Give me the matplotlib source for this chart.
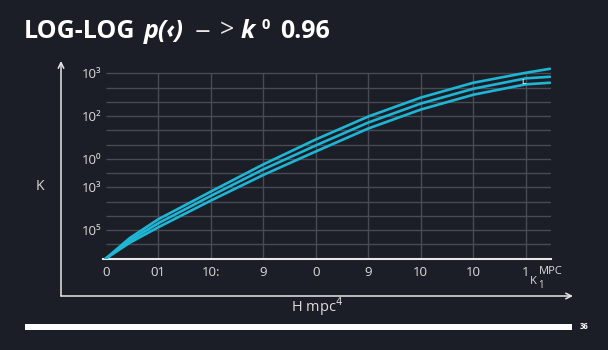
import matplotlib
matplotlib.use("Agg")
import matplotlib.pyplot as plt
from matplotlib.patches import Rectangle, FancyArrowPatch

# chart data (grid units)
x_vals = [0, 0.46, 1, 2, 3, 4, 5, 6, 7, 8, 8.46]
upper = [0, 1.45, 2.76, 4.70, 6.61, 8.36, 9.97, 11.30, 12.34, 13.04, 13.32]
middle = [0, 1.28, 2.48, 4.40, 6.26, 7.94, 9.55, 10.88, 11.92, 12.65, 12.76]
lower = [0, 1.12, 2.20, 4.07, 5.87, 7.52, 9.13, 10.46, 11.50, 12.23, 12.34]

x_ticks = [0, 1, 2, 3, 4, 5, 6, 7, 8]
x_labels = ["0", "01", "10:", "9", "0", "9", "10", "10", "1"]
y_ticks = [13, 10, 7, 5, 2]
y_labels = ["10³", "10²", "10⁰", "10³", "10⁵"]

BG = "#1b1e26"
LINE = "#1fb6d6"
GRID = "#464b54"
TXT = "#dcdcdc"
W, H = 608, 350

plt.rcParams['font.family'] = ['Open Sans', 'DejaVu Sans']

fig = plt.figure(figsize=(W / 100, H / 100), dpi=100, facecolor=BG)


def fx(px):
    return px / W


def fy(py):
    return 1 - py / H


# main axes, placed in pixel terms
left, right, bottom, top = 103, 551, 258.7, 64.8
ax = fig.add_axes([fx(left), fy(bottom), (right - left) / W, (bottom - top) / H])
ax.set_facecolor(BG)
ax.set_xlim(-0.05, 8.48)
ax.set_ylim(0, 13.6)

for y in range(1, 14):
    ax.hlines(y, 0.0, 8.48, color=GRID, lw=1, zorder=1)
for x in range(1, 9):
    ax.vlines(x, 0, 13, color=GRID, lw=1, zorder=1)

for series in (upper, middle, lower):
    ax.plot(x_vals, series, color=LINE, lw=1.9, zorder=3,
            solid_capstyle='round', solid_joinstyle='round')

for side in ('top', 'right', 'left'):
    ax.spines[side].set_visible(False)
ax.spines['bottom'].set_color('#e8e8e8')
ax.spines['bottom'].set_linewidth(1.5)

ax.set_xticks(x_ticks)
ax.set_xticklabels(x_labels)
ax.set_yticks(y_ticks)
ax.set_yticklabels(y_labels)
ax.tick_params(axis='x', length=0, pad=5, labelsize=9.5, labelcolor=TXT)
ax.tick_params(axis='y', length=0, pad=1, labelsize=9.5, labelcolor=TXT)

# little extra marks around the last x tick
fig.text(fx(533.5), fy(281), "K", color=TXT, fontsize=8, ha='center', va='center')
fig.text(fx(541), fy(285), "1", color=TXT, fontsize=7, ha='center', va='center')
fig.text(fx(551), fy(272), "MPC", color=TXT, fontsize=8, ha='center', va='center')
fig.text(fx(523), fy(82), "ʟ", color='white', fontsize=6, ha='center', va='center')

# outer axis arrows
arrow = dict(arrowstyle='->', color='#e6e6e6', lw=1.1, mutation_scale=10,
             shrinkA=0, shrinkB=0)
fig.add_artist(FancyArrowPatch((fx(61), fy(296)), (fx(61), fy(61)),
                               transform=fig.transFigure, **arrow))
fig.add_artist(FancyArrowPatch((fx(61), fy(296)), (fx(573), fy(296)),
                               transform=fig.transFigure, **arrow))

fig.text(fx(40), fy(186), "K", color=TXT, fontsize=10, ha='center', va='center')
fig.text(fx(317), fy(307), "H mpc$^4$", color=TXT, fontsize=10.5, ha='center', va='center')

# footer bar and page number
fig.add_artist(Rectangle((fx(25), fy(329.5)), fx(572) - fx(25), fy(324) - fy(329.5),
                         transform=fig.transFigure, color='white', lw=0))
fig.text(fx(580), fy(326.5), "36", color='white', fontsize=5.5, fontweight='bold',
         ha='left', va='center')

# title built from pieces so weights/styles can differ
base = 37.5
pieces = [
    (24, "LOG-LOG", 'bold', 'normal', 18, 0, 'white'),
    (144, "p(‹)", 'bold', 'italic', 18, 0, 'white'),
    (195, "−", 'normal', 'normal', 20, -3, '#e8e8e8'),
    (220, ">", 'normal', 'normal', 18, 0, '#e8e8e8'),
    (241, "k", 'bold', 'italic', 18, 0, 'white'),
    (261, "0", 'bold', 'normal', 10.5, 8, 'white'),
    (280, "0.96", 'bold', 'normal', 18, 0, 'white'),
]
for xp, text, weight, style, size, rise, col in pieces:
    fig.text(fx(xp), fy(base + 0) + rise / H, text, color=col, fontsize=size,
             fontweight=weight, fontstyle=style, ha='left', va='baseline')

fig.savefig("out.png", dpi=100, facecolor=BG)
